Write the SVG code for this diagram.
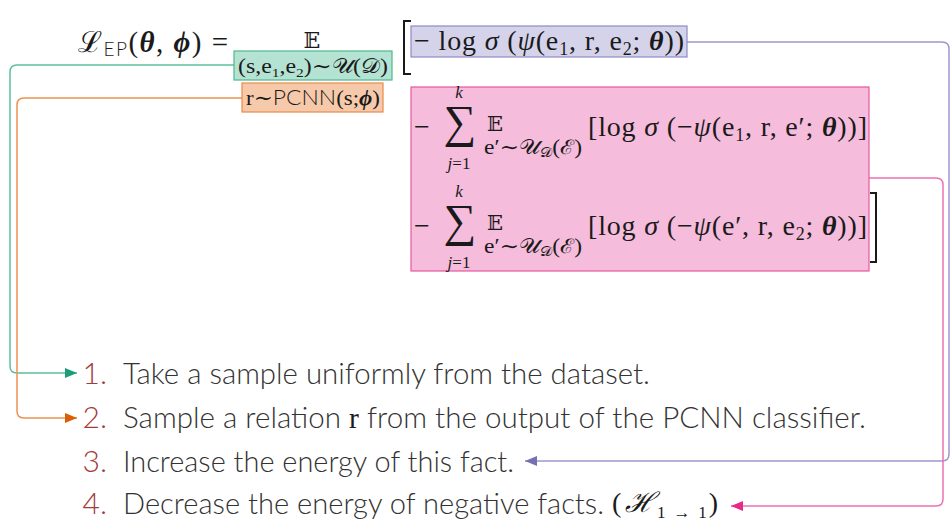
<svg xmlns="http://www.w3.org/2000/svg" width="951" height="522" viewBox="0 0 951 522">
<style>
.m{font-family:"Liberation Serif","DejaVu Serif",serif;fill:#1a1a1a}
.i{font-style:italic}
.bi{font-style:italic;font-weight:bold}
.s{font-family:"Lato","Open Sans","Liberation Sans",sans-serif;font-weight:300}
.li{font-family:"Lato","Open Sans","Liberation Sans",sans-serif;font-weight:300;font-size:30px;fill:#333}
.num{font-family:"Lato","Open Sans","Liberation Sans",sans-serif;font-weight:300;font-size:30px;fill:#a23b3b;text-anchor:end}
.con{fill:none;stroke-width:1.5}
</style>
<defs>
<marker id="ag" viewBox="0 0 12 10" refX="12" refY="5" markerWidth="12" markerHeight="10" markerUnits="userSpaceOnUse" orient="auto"><path d="M0,0L12,5L0,10z" fill="#1b9e77"/></marker>
<marker id="ao" viewBox="0 0 12 10" refX="12" refY="5" markerWidth="12" markerHeight="10" markerUnits="userSpaceOnUse" orient="auto"><path d="M0,0L12,5L0,10z" fill="#d95f02"/></marker>
<marker id="ap" viewBox="0 0 12 10" refX="12" refY="5" markerWidth="12" markerHeight="10" markerUnits="userSpaceOnUse" orient="auto"><path d="M0,0L12,5L0,10z" fill="#7570b3"/></marker>
<marker id="ak" viewBox="0 0 12 10" refX="12" refY="5" markerWidth="12" markerHeight="10" markerUnits="userSpaceOnUse" orient="auto"><path d="M0,0L12,5L0,10z" fill="#e7298a"/></marker>
</defs>
<rect width="951" height="522" fill="#fff"/>

<g id="connectors">
<path class="con" stroke="#5cc09c" d="M234,65 H17 Q10,65 10,72 V366 Q10,373 17,373 H77" marker-end="url(#ag)"/>
<path class="con" stroke="#ec9350" d="M242,98 H24 Q17,98 17,105 V411 Q17,418 24,418 H77" marker-end="url(#ao)"/>
<path class="con" stroke="#9c98cf" d="M687,42 H942 Q949,42 949,49 V454 Q949,461 942,461 H525" marker-end="url(#ap)"/>
<path class="con" stroke="#ee70b0" d="M869,178 H936 Q943,178 943,185 V499 Q943,506 936,506 H731" marker-end="url(#ak)"/>
</g>

<g id="lhs">
<text class="m" x="78" y="52" font-size="29" textLength="150" lengthAdjust="spacing">ℒ<tspan class="s" font-size="19" dy="4">EP</tspan><tspan dy="-4">(</tspan><tspan class="bi">θ</tspan>, <tspan class="bi">ϕ</tspan>) =</text>
<text class="m" x="312" y="48" font-size="22" text-anchor="middle">𝔼</text>
</g>

<g id="uniform-sample">
<rect x="234" y="51" width="158" height="29" fill="#b5e3d3" stroke="#4fb88f" stroke-width="1.2"/>
<text class="m" x="238" y="73" font-size="20" textLength="150" lengthAdjust="spacingAndGlyphs">(s,e<tspan font-size="13" dy="4">1</tspan><tspan dy="-4">,e</tspan><tspan font-size="13" dy="4">2</tspan><tspan dy="-4">)∼𝒰(𝒟)</tspan></text>
</g>

<g id="pcnn-sample">
<rect x="242" y="83" width="141" height="29" fill="#f7c9ab" stroke="#e98a48" stroke-width="1.2"/>
<text class="m" x="246" y="105" font-size="21" textLength="134" lengthAdjust="spacingAndGlyphs">r∼<tspan class="s">PCNN</tspan>(s;<tspan class="bi">ϕ</tspan>)</text>
</g>

<g id="bracket-open">
<path d="M411,21 H404 V74 H411" fill="none" stroke="#1a1a1a" stroke-width="2"/>
</g>

<g id="positive-term">
<rect x="411" y="26" width="276" height="31" fill="#d5d3ea" stroke="#8e8ac6" stroke-width="1.2"/>
<text class="m" x="414" y="50" font-size="28" textLength="270" lengthAdjust="spacing">− log <tspan class="i">σ</tspan> (<tspan class="i">ψ</tspan>(e<tspan font-size="18" dy="5">1</tspan><tspan dy="-5">, r, e</tspan><tspan font-size="18" dy="5">2</tspan><tspan dy="-5">; </tspan><tspan class="bi">θ</tspan>))</text>
</g>

<g id="negative-terms">
<rect x="411" y="87" width="458" height="184" fill="#f6bcdb" stroke="#e8579f" stroke-width="1.2"/>
<text class="m" x="414" y="136" font-size="28">−</text>
<text class="m" x="460" y="137" font-size="46" text-anchor="middle">∑</text>
<text class="m i" x="459" y="98" font-size="17" text-anchor="middle">k</text>
<text class="m" x="459" y="169" font-size="17" text-anchor="middle"><tspan class="i">j</tspan>=1</text>
<text class="m" x="495" y="131" font-size="21" text-anchor="middle">𝔼</text>
<text class="m" x="484" y="154" font-size="20" textLength="98" lengthAdjust="spacingAndGlyphs">e′∼𝒰<tspan font-size="13" dy="3">𝒟</tspan><tspan dy="-3">(ℰ)</tspan></text>
<text class="m" x="588" y="136" font-size="28" textLength="279" lengthAdjust="spacing">[log <tspan class="i">σ</tspan> (−<tspan class="i">ψ</tspan>(e<tspan font-size="18" dy="5">1</tspan><tspan dy="-5">, r, e′; </tspan><tspan class="bi">θ</tspan>))]</text>

<text class="m" x="414" y="235" font-size="28">−</text>
<text class="m" x="460" y="236" font-size="46" text-anchor="middle">∑</text>
<text class="m i" x="459" y="197" font-size="17" text-anchor="middle">k</text>
<text class="m" x="459" y="268" font-size="17" text-anchor="middle"><tspan class="i">j</tspan>=1</text>
<text class="m" x="495" y="230" font-size="21" text-anchor="middle">𝔼</text>
<text class="m" x="484" y="253" font-size="20" textLength="98" lengthAdjust="spacingAndGlyphs">e′∼𝒰<tspan font-size="13" dy="3">𝒟</tspan><tspan dy="-3">(ℰ)</tspan></text>
<text class="m" x="588" y="235" font-size="28" textLength="279" lengthAdjust="spacing">[log <tspan class="i">σ</tspan> (−<tspan class="i">ψ</tspan>(e′, r, e<tspan font-size="18" dy="5">2</tspan><tspan dy="-5">; </tspan><tspan class="bi">θ</tspan>))]</text>
</g>

<g id="bracket-close">
<path d="M870,193 H876 V262 H870" fill="none" stroke="#1a1a1a" stroke-width="2"/>
</g>

<g id="step1">
<text class="num" x="107" y="384">1.</text>
<text class="li" x="123" y="384" textLength="527" lengthAdjust="spacingAndGlyphs">Take a sample uniformly from the dataset.</text>
</g>
<g id="step2">
<text class="num" x="107" y="428">2.</text>
<text class="li" x="123" y="428" textLength="743" lengthAdjust="spacingAndGlyphs">Sample a relation <tspan class="m" font-weight="normal">r</tspan> from the output of the PCNN classifier.</text>
</g>
<g id="step3">
<text class="num" x="107" y="472">3.</text>
<text class="li" x="123" y="472" textLength="391" lengthAdjust="spacingAndGlyphs">Increase the energy of this fact.</text>
</g>
<g id="step4">
<text class="num" x="107" y="514">4.</text>
<text class="li" x="123" y="514" textLength="481" lengthAdjust="spacingAndGlyphs">Decrease the energy of negative facts.</text>
<text class="m" x="612" y="512" font-size="28" textLength="106" lengthAdjust="spacing">(<tspan class="i" dx="2">ℋ</tspan><tspan font-size="17" dy="6">1 → 1</tspan><tspan dy="-6">)</tspan></text>
</g>
</svg>
